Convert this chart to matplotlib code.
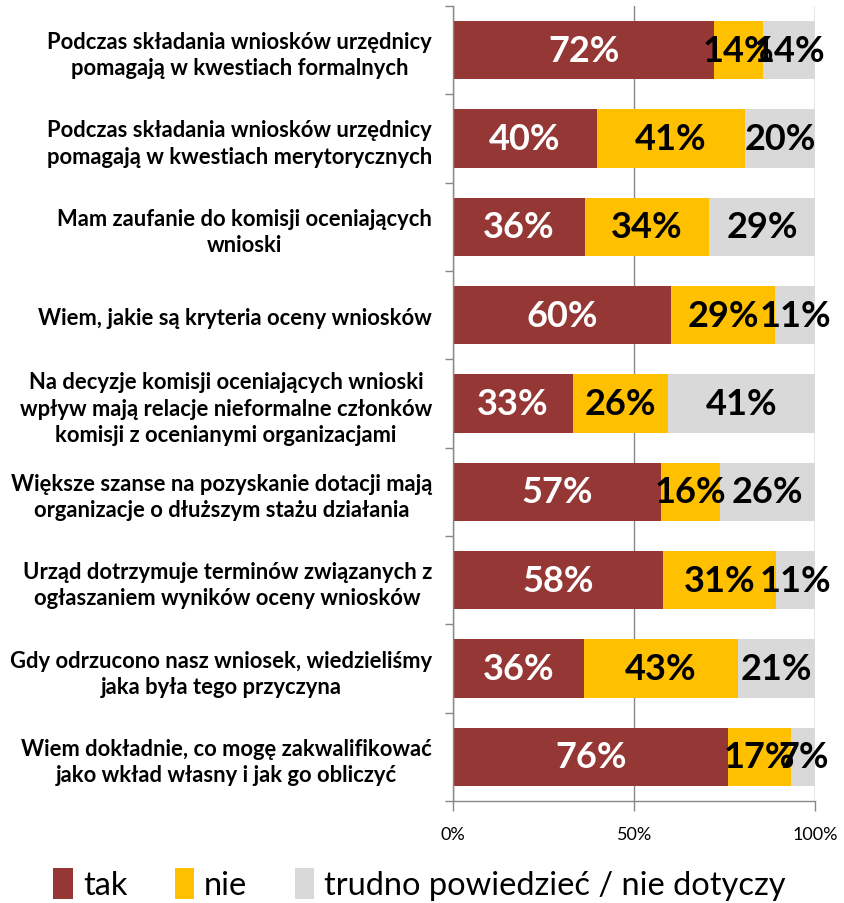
import matplotlib
matplotlib.use('Agg')
import matplotlib.pyplot as plt
from matplotlib.patches import Patch
import numpy as np

# ── Data ───────────────────────────────────────────────────────────────────
categories = [
    'Podczas składania wniosków urzędnicy\npomagają w kwestiach formalnych',
    'Podczas składania wniosków urzędnicy\npomagają w kwestiach merytorycznych',
    'Mam zaufanie do komisji oceniających\nwnioski',
    'Wiem, jakie są kryteria oceny wniosków',
    'Na decyzje komisji oceniających wnioski\nwpływ mają relacje nieformalne członków\nkomisji z ocenianymi organizacjami',
    'Większe szanse na pozyskanie dotacji mają\norganizacje o dłuższym stażu działania',
    'Urząd dotrzymuje terminów związanych z\nogłaszaniem wyników oceny wniosków',
    'Gdy odrzucono nasz wniosek, wiedzieliśmy\njaka była tego przyczyna',
    'Wiem dokładnie, co mogę zakwalifikować\njako wkład własny i jak go obliczyć',
]
tak = [72.1, 39.6, 36.4, 60.2, 33.2, 57.3, 58.0, 36.1, 76.0]
nie = [13.5, 40.9, 34.3, 28.6, 26.1, 16.4, 31.1, 42.6, 17.2]
trudno = [14.4, 19.5, 29.3, 11.2, 40.7, 26.3, 10.9, 21.3, 6.8]

series_names = ['tak', 'nie', 'trudno powiedzieć / nie dotyczy']
colors = ['#953735', '#FFC000', '#D9D9D9']
text_colors = ['white', 'black', 'black']

x_ticks = [0, 50, 100]
x_ticklabels = ['0%', '50%', '100%']

# ── Plot ───────────────────────────────────────────────────────────────────
plt.rcParams['font.family'] = ['Lato', 'DejaVu Sans']

fig = plt.figure(figsize=(8.44, 9.04), dpi=100)
ax = fig.add_axes([0.5367, 0.1128, 0.4295, 0.8795])

y = np.arange(len(categories))
left = np.zeros(len(categories))
for vals, col, tcol in zip([tak, nie, trudno], colors, text_colors):
    vals = np.array(vals)
    ax.barh(y, vals, left=left, height=0.66, color=col, zorder=2)
    for yi, l, v in zip(y, left, vals):
        ax.text(l + v / 2, yi, f'{v:.0f}%', ha='center', va='center',
                color=tcol, fontsize=26, fontweight='bold', zorder=3)
    left += vals

ax.set_xlim(0, 100)
ax.set_ylim(len(categories) - 0.5, -0.5)

ax.set_yticks(y)
ax.set_yticklabels(categories, fontsize=15.8, fontweight='bold', linespacing=1.3)
for t in ax.get_yticklabels():
    t.set_multialignment('center')
ax.tick_params(axis='y', which='major', length=0, pad=15)
ax.set_yticks(np.arange(-0.5, len(categories) + 0.5, 1), minor=True)
ax.tick_params(axis='y', which='minor', length=6, color='#888888', width=1)

ax.set_xticks(x_ticks)
ax.set_xticklabels(x_ticklabels, fontsize=13)
ax.tick_params(axis='x', length=7, color='#888888', width=1, pad=11)

ax.xaxis.grid(True, color='#888888', linewidth=1, zorder=0)
ax.set_axisbelow(True)
for s in ['top', 'right']:
    ax.spines[s].set_visible(False)
for s in ['left', 'bottom']:
    ax.spines[s].set_color('#888888')
    ax.spines[s].set_linewidth(1)

handles = [Patch(facecolor=c, edgecolor='none') for c in colors]
fig.legend(handles, series_names, loc='center', bbox_to_anchor=(0.497, 0.021),
           ncol=3, frameon=False, handlelength=0.6, handleheight=1.1,
           handletextpad=0.3, columnspacing=1.45,
           prop={'size': 23.5})

fig.savefig('out.png', dpi=100)
